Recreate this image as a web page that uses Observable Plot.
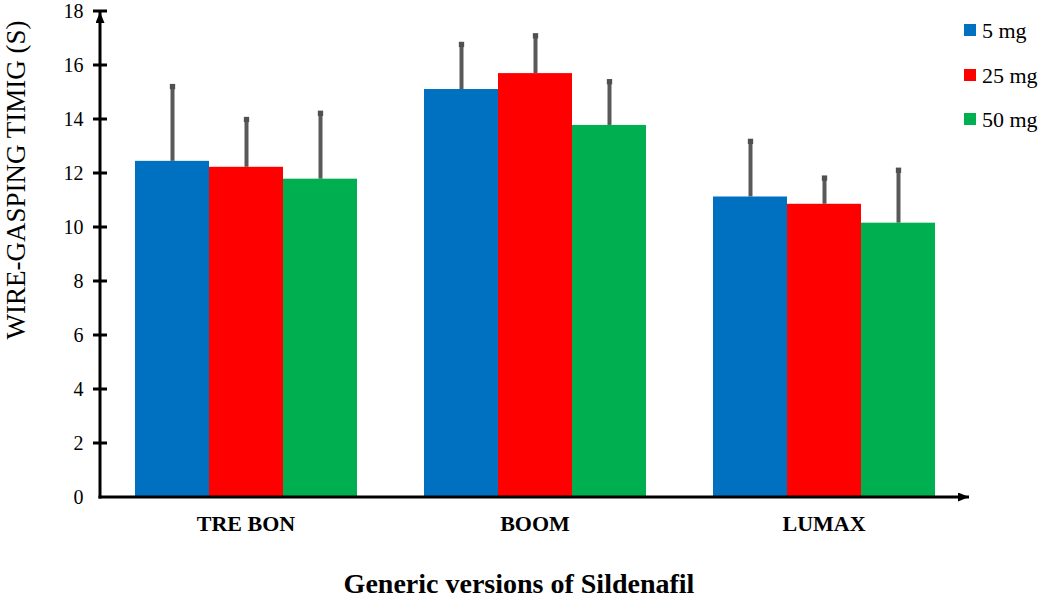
<!DOCTYPE html>
<html><head><meta charset="utf-8">
<script src="https://cdn.jsdelivr.net/npm/d3@7"></script>
<script src="https://cdn.jsdelivr.net/npm/@observablehq/plot@0.6"></script>
<style>body{margin:0;background:#fff;} #chart{position:relative;width:1040px;height:597px;}</style>
</head><body><div id="chart"></div>
<script>
const groups = ["TRE BON", "BOOM", "LUMAX"];
const doses = ["5 mg", "25 mg", "50 mg"];
const doseColors = ["#0070C0", "#FF0000", "#00B050"];
const mean5 = [12.45, 15.11, 11.13];
const mean25 = [12.23, 15.70, 10.86];
const mean50 = [11.79, 13.78, 10.16];
const sd5 = [2.77, 1.67, 2.06];
const sd25 = [1.77, 1.40, 0.97];
const sd50 = [2.44, 1.62, 1.96];
const yTicks = [0, 2, 4, 6, 8, 10, 12, 14, 16, 18];
const yLabel = "WIRE-GASPING TIMIG (S)";
const xLabel = "Generic versions of Sildenafil";

const means = [mean5, mean25, mean50];
const sds = [sd5, sd25, sd50];
const data = [];
groups.forEach((g, i) => doses.forEach((d, j) =>
  data.push({group: g, dose: d, mean: means[j][i], top: means[j][i] + sds[j][i]})));

const W = 1040, H = 597, mL = 100, mR = 71, mT = 11, mB = 100;
const font = "'Liberation Serif', 'Times New Roman', serif";
const chart = Plot.plot({
  width: W, height: H, marginLeft: mL, marginRight: mR, marginTop: mT, marginBottom: mB,
  style: {fontFamily: font, fontSize: "20px", background: "white", color: "black", overflow: "visible"},
  fx: {domain: groups, padding: 0, label: null},
  x: {domain: doses, paddingInner: 0, paddingOuter: 0.44, axis: null},
  y: {domain: [0, 18], label: null},
  color: {domain: doses, range: doseColors},
  marks: [
    Plot.barY(data, {fx: "group", x: "dose", y: "mean", fill: "dose"}),
    Plot.ruleX(data, {fx: "group", x: "dose", y1: "mean", y2: "top", stroke: "#595959", strokeWidth: 4}),
    Plot.dot(data, {fx: "group", x: "dose", y: "top", symbol: "square", r: 3, fill: "#505050"}),
    Plot.axisY(yTicks, {anchor: "left", tickSize: 0, tickPadding: 18, fontSize: 20, label: null}),
    Plot.axisFx({anchor: "bottom", tickSize: 0, tickPadding: 18, fontSize: 22, fontWeight: "bold", label: null})
  ]
});
document.getElementById("chart").appendChild(chart);

const svg = d3.select(chart);
const y = chart.scale("y");
const y0 = y.apply(0), yTop = y.apply(18);
const xL = mL, xR = W - mR;
const defs = svg.append("defs");
defs.append("marker").attr("id", "arr").attr("markerUnits", "userSpaceOnUse")
  .attr("markerWidth", 12).attr("markerHeight", 10).attr("refX", 11).attr("refY", 4.5)
  .attr("orient", "auto")
  .append("path").attr("d", "M0,0 L11,4.5 L0,9 Z").attr("fill", "black");
const ax = svg.append("g").attr("stroke", "black").attr("stroke-width", 3);
ax.append("line").attr("x1", xL).attr("x2", xL).attr("y1", y0 + 1.5).attr("y2", yTop + 1)
  .attr("marker-end", "url(#arr)");
ax.append("line").attr("x1", xL - 1.5).attr("x2", xR).attr("y1", y0).attr("y2", y0)
  .attr("marker-end", "url(#arr)");
ax.selectAll("line.tk").data(yTicks.filter(t => t > 0)).join("line").attr("class", "tk")
  .attr("x1", xL - 7).attr("x2", xL + 7).attr("y1", d => y.apply(d)).attr("y2", d => y.apply(d));

svg.append("text").text(yLabel)
  .attr("transform", `translate(16,180) rotate(-90)`)
  .attr("text-anchor", "middle").attr("dominant-baseline", "central")
  .attr("font-family", font).attr("font-size", 27).attr("fill", "black");
svg.append("text").text(xLabel)
  .attr("x", W / 2 - 1).attr("y", 583)
  .attr("text-anchor", "middle").attr("dominant-baseline", "central")
  .attr("font-family", font).attr("font-size", 28).attr("font-weight", "bold").attr("fill", "black");

const lg = svg.append("g").attr("font-family", font).attr("font-size", 22).attr("text-anchor", "start");
const lgY = [30, 75, 119];
doses.forEach((d, i) => {
  lg.append("rect").attr("x", 964).attr("y", lgY[i] - 6).attr("width", 12).attr("height", 12)
    .attr("fill", doseColors[i]);
  lg.append("text").attr("x", 982).attr("y", lgY[i]).attr("dominant-baseline", "central")
    .attr("text-anchor", "start").attr("fill", "black").text(d);
});
</script>
</body></html>
